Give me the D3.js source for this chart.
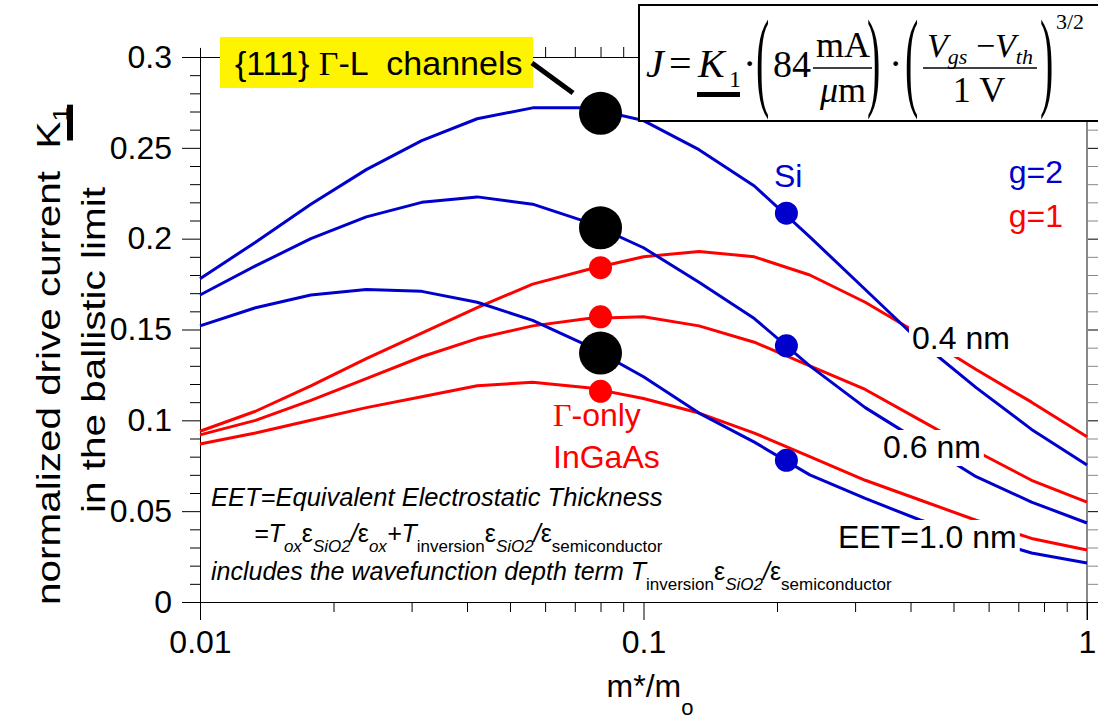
<!DOCTYPE html>
<html>
<head>
<meta charset="utf-8">
<script src="https://cdn.jsdelivr.net/npm/d3@7"></script>
<style>
  html, body { margin: 0; padding: 0; background: #fff; }
  svg { display: block; }
</style>
</head>
<body>
<svg id="chart" width="1098" height="720"></svg>
<script>
// ---- data -------------------------------------------------------------
// effective mass ratio m*/m0 at each computed point (8 points per decade)
const massRatio = [0.01, 0.01334, 0.01778, 0.02371, 0.03162, 0.04217, 0.05623, 0.07499,
                   0.1, 0.1334, 0.1778, 0.2371, 0.3162, 0.4217, 0.5623, 0.7499, 1.0];

// normalized ballistic drive current K1, valley degeneracy g=2
const k1G2Eet04 = [0.178, 0.198, 0.219, 0.238, 0.254, 0.266, 0.272, 0.272, 0.265, 0.249, 0.229, 0.201, 0.172, 0.143, 0.118, 0.095, 0.0754];
const k1G2Eet06 = [0.169, 0.185, 0.200, 0.212, 0.220, 0.223, 0.219, 0.209, 0.195, 0.176, 0.156, 0.130, 0.107, 0.088, 0.069, 0.055, 0.0435];
const k1G2Eet10 = [0.152, 0.162, 0.169, 0.172, 0.171, 0.165, 0.155, 0.141, 0.124, 0.104, 0.088, 0.070, 0.057, 0.045, 0.036, 0.027, 0.0215];

// valley degeneracy g=1
const k1G1Eet04 = [0.094, 0.105, 0.119, 0.134, 0.148, 0.162, 0.175, 0.183, 0.190, 0.193, 0.190, 0.180, 0.165, 0.147, 0.128, 0.110, 0.091];
const k1G1Eet06 = [0.092, 0.100, 0.111, 0.123, 0.135, 0.145, 0.152, 0.156, 0.157, 0.152, 0.143, 0.130, 0.117, 0.100, 0.083, 0.067, 0.055];
const k1G1Eet10 = [0.087, 0.093, 0.100, 0.107, 0.113, 0.119, 0.121, 0.118, 0.112, 0.104, 0.093, 0.080, 0.067, 0.056, 0.045, 0.035, 0.0286];

// highlighted material points
const gammaLMass = 0.08;
const gammaLK1 = [0.269, 0.206, 0.137];
const ingaasMass = 0.08;
const ingaasK1 = [0.184, 0.157, 0.116];
const siMass = 0.21;
const siK1 = [0.214, 0.141, 0.078];

const eetLabels = ["0.4 nm", "0.6 nm", "EET=1.0 nm"];

// axis ticks
const yTicks = [0, 0.05, 0.1, 0.15, 0.2, 0.25, 0.3];
const yTickLabels = ["0", "0.05", "0.1", "0.15", "0.2", "0.25", "0.3"];
const yMinorTicks = [0.01, 0.02, 0.03, 0.04, 0.06, 0.07, 0.08, 0.09, 0.11, 0.12, 0.13, 0.14,
                     0.16, 0.17, 0.18, 0.19, 0.21, 0.22, 0.23, 0.24, 0.26, 0.27, 0.28, 0.29];
const xTicks = [0.01, 0.1, 1];
const xTickLabels = ["0.01", "0.1", "1"];
const xMinorTicks = [0.02, 0.03, 0.04, 0.05, 0.06, 0.07, 0.08, 0.09,
                     0.2, 0.3, 0.4, 0.5, 0.6, 0.7, 0.8, 0.9];

// ---- setup ------------------------------------------------------------
const BLUE = "#0000cc";
const RED = "#ff0000";
const SANS = "'Liberation Sans', Arial, Helvetica, sans-serif";
const SERIF = "'Liberation Serif', 'Times New Roman', serif";

const svg = d3.select("#chart");
svg.append("rect").attr("width", 1098).attr("height", 720).attr("fill", "#fff");

const x = d3.scaleLog().domain([0.01, 1]).range([200, 1087]);
const y = d3.scaleLinear().domain([0, 0.3]).range([602, 57]);

function styleAxis(g, color) {
  g.select(".domain").remove();
  g.attr("font-family", SANS).attr("font-size", 32);
  g.selectAll(".tick line").attr("stroke", color || "#000");
  g.selectAll(".tick text").attr("fill", "#000");
}

// ---- axes -------------------------------------------------------------
// left
svg.append("g").attr("transform", "translate(200,0)")
  .call(d3.axisLeft(y).tickValues(yMinorTicks).tickSize(10).tickFormat(""))
  .call(g => styleAxis(g));
svg.append("g").attr("transform", "translate(200,0)")
  .call(d3.axisLeft(y).tickValues(yTicks).tickSize(18).tickPadding(10)
        .tickFormat((d, i) => yTickLabels[i]))
  .call(g => styleAxis(g));
svg.append("line").attr("x1", 200.5).attr("x2", 200.5).attr("y1", y(0)).attr("y2", y(0.305))
  .attr("stroke", "#000");

// right
svg.append("g").attr("transform", "translate(1087,0)")
  .call(d3.axisRight(y).tickValues(yMinorTicks).tickSize(11).tickFormat(""))
  .call(g => styleAxis(g, "#888"));
svg.append("g").attr("transform", "translate(1087,0)")
  .call(d3.axisRight(y).tickValues(yTicks).tickSize(11).tickFormat(""))
  .call(g => styleAxis(g));
svg.append("line").attr("x1", 1087).attr("x2", 1087).attr("y1", y(0) + 18).attr("y2", y(0.3))
  .attr("stroke", "#888").attr("stroke-width", 2);

// bottom
svg.append("g").attr("transform", `translate(0,${y(0)})`)
  .call(d3.axisBottom(x).tickValues(xMinorTicks).tickSize(10).tickFormat(""))
  .call(g => styleAxis(g));
svg.append("g").attr("transform", `translate(0,${y(0)})`)
  .call(d3.axisBottom(x).tickValues(xTicks).tickSize(18).tickPadding(10)
        .tickFormat((d, i) => xTickLabels[i]))
  .call(g => styleAxis(g));
svg.append("line").attr("x1", 200).attr("x2", 1098).attr("y1", y(0) + 0.5).attr("y2", y(0) + 0.5)
  .attr("stroke", "#000");

// top
svg.append("g").attr("transform", `translate(0,${y(0.3)})`)
  .call(d3.axisTop(x).tickValues(xMinorTicks).tickSize(10).tickFormat(""))
  .call(g => styleAxis(g));
svg.append("line").attr("x1", 200).attr("x2", 1087).attr("y1", y(0.3) + 0.5).attr("y2", y(0.3) + 0.5)
  .attr("stroke", "#000");

// axis titles
const xTitle = svg.append("text").attr("x", 650).attr("y", 697)
  .attr("text-anchor", "middle").attr("font-family", SANS).attr("font-size", 32);
xTitle.append("tspan").text("m*/m");
xTitle.append("tspan").attr("font-size", 22).attr("dy", 18).text("o");

// rotated y title, stretched along its length
const yTitle = svg.append("g").attr("transform", "translate(60,356) rotate(-90) scale(1.19,1)");
const yLine1 = yTitle.append("text").attr("text-anchor", "middle")
  .attr("font-family", SANS).attr("font-size", 34).style("white-space", "pre");
yLine1.append("tspan").text("normalized drive current  ");
const kSpan = yLine1.append("tspan").text("K");
const oneSpan = yLine1.append("tspan").attr("font-size", 22).attr("dy", 8).text("1");
yTitle.append("text").attr("text-anchor", "middle").attr("x", 5).attr("y", 45)
  .attr("font-family", SANS).attr("font-size", 34).text("in the ballistic limit");
{
  const kb = kSpan.node().getBBox();
  const ob = oneSpan.node().getBBox();
  const x0 = kb.x + kb.width * 0.3;
  yTitle.append("rect").attr("x", x0).attr("y", 7).attr("width", ob.x + ob.width - x0 + 2)
    .attr("height", 6).attr("fill", "#000");
}

// ---- curves -----------------------------------------------------------
const curves = [
  { k1: k1G1Eet04, color: RED },
  { k1: k1G1Eet06, color: RED },
  { k1: k1G1Eet10, color: RED },
  { k1: k1G2Eet04, color: BLUE },
  { k1: k1G2Eet06, color: BLUE },
  { k1: k1G2Eet10, color: BLUE }
];
const line = d3.line().x(d => x(d[0])).y(d => y(d[1]));
svg.append("g").selectAll("path").data(curves).join("path")
  .attr("d", c => line(massRatio.map((m, i) => [m, c.k1[i]])))
  .attr("fill", "none").attr("stroke", c => c.color).attr("stroke-width", 3)
  .attr("stroke-linejoin", "round");

// EET labels on white backgrounds that interrupt the curves
const eetPos = [[912, 349], [883, 458], [838, 548]];
eetLabels.forEach((t, i) => {
  const g = svg.append("g");
  const txt = g.append("text").attr("x", eetPos[i][0]).attr("y", eetPos[i][1])
    .attr("font-family", SANS).attr("font-size", 32).attr("fill", "#000").text(t);
  const b = txt.node().getBBox();
  g.insert("rect", "text").attr("x", b.x - 3).attr("y", b.y + 1)
    .attr("width", b.width + 6).attr("height", b.height).attr("fill", "#fff");
});

// ---- markers ----------------------------------------------------------
svg.append("g").selectAll("circle").data(gammaLK1).join("circle")
  .attr("cx", x(gammaLMass)).attr("cy", d => y(d)).attr("r", 21.5).attr("fill", "#000");
svg.append("g").selectAll("circle").data(ingaasK1).join("circle")
  .attr("cx", x(ingaasMass)).attr("cy", d => y(d)).attr("r", 11.5).attr("fill", RED);
svg.append("g").selectAll("circle").data(siK1).join("circle")
  .attr("cx", x(siMass)).attr("cy", d => y(d)).attr("r", 11.5).attr("fill", BLUE);

// ---- annotations ------------------------------------------------------
svg.append("text").attr("x", 774).attr("y", 187).attr("font-family", SANS).attr("font-size", 32)
  .attr("fill", BLUE).text("Si");
svg.append("text").attr("x", 1063).attr("y", 183).attr("text-anchor", "end")
  .attr("font-family", SANS).attr("font-size", 32).attr("fill", BLUE).text("g=2");
svg.append("text").attr("x", 1063).attr("y", 227).attr("text-anchor", "end")
  .attr("font-family", SANS).attr("font-size", 32).attr("fill", RED).text("g=1");

const gOnly = svg.append("text").attr("x", 553).attr("y", 426)
  .attr("font-family", SANS).attr("font-size", 32).attr("fill", RED);
gOnly.append("tspan").attr("font-family", SERIF).text("Γ");
gOnly.append("tspan").text("-only");
svg.append("text").attr("x", 553).attr("y", 468)
  .attr("font-family", SANS).attr("font-size", 32).attr("fill", RED).text("InGaAs");

// EET definition notes
function richLine(xp, yp, size, parts) {
  const t = svg.append("text").attr("x", xp).attr("y", yp)
    .attr("font-family", SANS).attr("font-size", size).attr("fill", "#000");
  let shift = 0;
  parts.forEach(p => {
    const s = t.append("tspan").text(p.t);
    const target = p.sub ? 10 : 0;
    if (target !== shift) { s.attr("dy", target - shift); shift = target; }
    if (p.sub) s.attr("font-size", 17);
    s.attr("font-style", p.it ? "italic" : "normal");
  });
  return t;
}
richLine(211, 506, 25.5, [{ t: "EET=Equivalent Electrostatic Thickness", it: true }]);
richLine(254, 542, 25, [
  { t: "=T", it: true }, { t: "ox", it: true, sub: true },
  { t: "ε" }, { t: "SiO2", it: true, sub: true },
  { t: "/", it: true }, { t: "ε" }, { t: "ox", it: true, sub: true },
  { t: "+T", it: true }, { t: "inversion", sub: true },
  { t: "ε" }, { t: "SiO2", it: true, sub: true },
  { t: "/", it: true }, { t: "ε" }, { t: "semiconductor", sub: true }
]);
richLine(211, 580, 25, [
  { t: "includes the wavefunction depth term T", it: true }, { t: "inversion", sub: true },
  { t: "ε" }, { t: "SiO2", it: true, sub: true },
  { t: "/", it: true }, { t: "ε" }, { t: "semiconductor", sub: true }
]);

// {111} channel callout
svg.append("rect").attr("x", 220).attr("y", 37).attr("width", 313).attr("height", 51)
  .attr("fill", "#fff400");
const callout = svg.append("text").attr("x", 235).attr("y", 75)
  .attr("font-family", SANS).attr("font-size", 34).attr("fill", "#000").style("white-space", "pre");
callout.append("tspan").text("{111} ");
callout.append("tspan").attr("font-family", SERIF).text("Γ");
callout.append("tspan").text("-L  channels");
svg.append("line").attr("x1", 532).attr("y1", 63).attr("x2", 573).attr("y2", 93)
  .attr("stroke", "#000").attr("stroke-width", 5);

// ---- current formula box ----------------------------------------------
svg.append("rect").attr("x", 639).attr("y", 5).attr("width", 470).attr("height", 116)
  .attr("fill", "#fff").attr("stroke", "#000").attr("stroke-width", 2);
const F = svg.append("g").attr("font-family", SERIF).attr("fill", "#000");
function ft(xp, yp, str, size, opts) {
  opts = opts || {};
  return F.append("text").attr("x", xp).attr("y", yp).attr("font-size", size)
    .attr("font-style", opts.it ? "italic" : "normal")
    .attr("text-anchor", opts.anchor || "start").text(str);
}
function bigParen(xp, ch) {
  F.append("text").attr("transform", `translate(${xp},96) scale(1,2.73)`)
    .attr("font-size", 40).text(ch);
}
ft(646, 77, "J", 40, { it: true });
ft(669, 77, "=", 40);
ft(698, 77, "K", 40, { it: true });
ft(729, 87, "1", 24);
F.append("rect").attr("x", 697).attr("y", 92).attr("width", 43).attr("height", 5);
ft(743, 77, "·", 40);
bigParen(756, "(");
ft(773, 77, "84", 38);
ft(843, 57, "mA", 36, { anchor: "middle" });
F.append("line").attr("x1", 813).attr("x2", 872).attr("y1", 68).attr("y2", 68)
  .attr("stroke", "#000").attr("stroke-width", 1.5);
const um = F.append("text").attr("x", 843).attr("y", 102).attr("font-size", 36)
  .attr("text-anchor", "middle");
um.append("tspan").attr("font-style", "italic").text("μ");
um.append("tspan").text("m");
bigParen(867, ")");
ft(889, 77, "·", 40);
bigParen(905, "(");
const num = F.append("text").attr("x", 980).attr("y", 57).attr("font-size", 34)
  .attr("text-anchor", "middle").attr("font-style", "italic");
num.append("tspan").text("V");
num.append("tspan").attr("font-size", 22).attr("dy", 7).text("gs");
num.append("tspan").attr("dy", -7).attr("font-style", "normal").text(" −");
num.append("tspan").text("V");
num.append("tspan").attr("font-size", 22).attr("dy", 7).text("th");
F.append("line").attr("x1", 923).attr("x2", 1037).attr("y1", 68).attr("y2", 68)
  .attr("stroke", "#000").attr("stroke-width", 1.5);
ft(979, 102, "1 V", 36, { anchor: "middle" });
bigParen(1040, ")");
ft(1056, 29, "3/2", 22);
</script>
</body>
</html>
